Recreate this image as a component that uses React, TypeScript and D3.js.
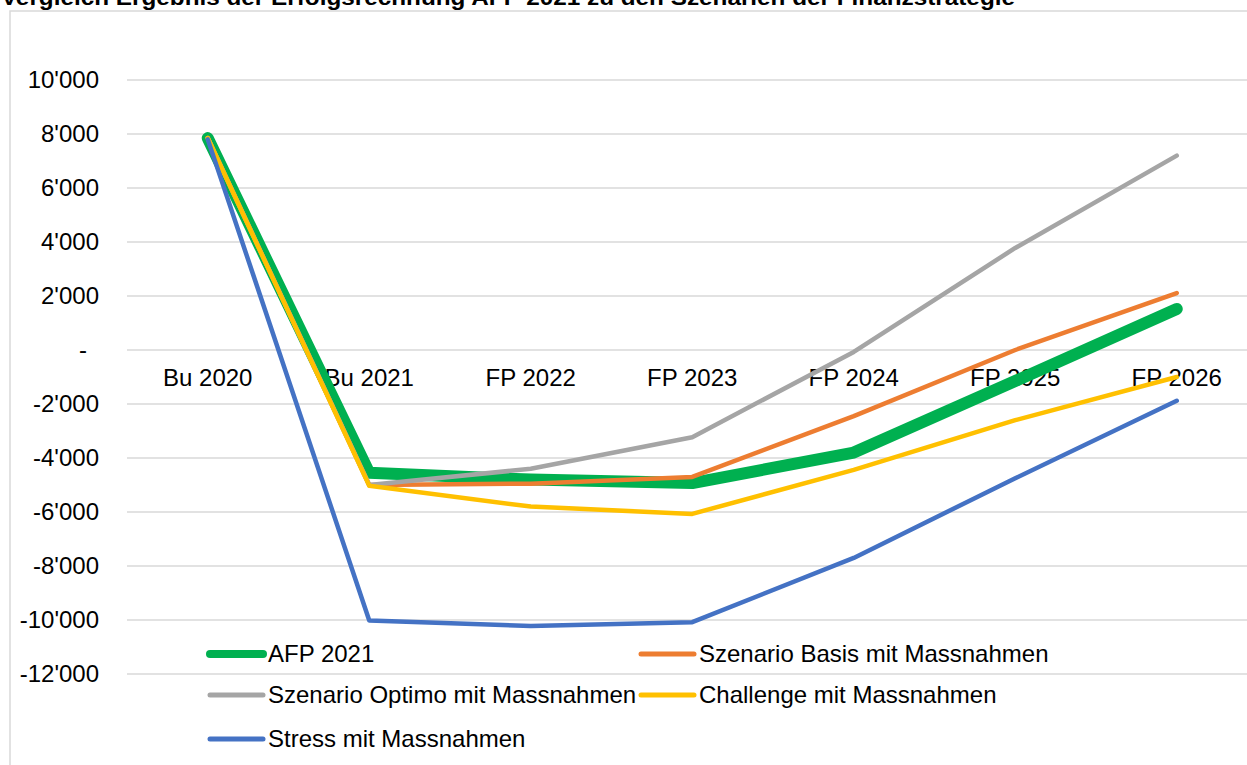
import React from "react";
import * as d3 from "d3";

const categories = ["Bu 2020", "Bu 2021", "FP 2022", "FP 2023", "FP 2024", "FP 2025", "FP 2026"];
const afp2021 = [7850, -4550, -4800, -4930, -3800, -1150, 1520];
const basis = [7850, -5000, -4950, -4700, -2450, 0, 2110];
const optimo = [7850, -5000, -4400, -3230, -70, 3780, 7200];
const challenge = [7850, -5030, -5800, -6070, -4440, -2600, -1000];
const stress = [7800, -10020, -10220, -10080, -7700, -4750, -1880];
const yTicks = [10000, 8000, 6000, 4000, 2000, 0, -2000, -4000, -6000, -8000, -10000, -12000];
const seriesNames = [
  "AFP 2021",
  "Szenario Basis mit Massnahmen",
  "Szenario Optimo mit Massnahmen",
  "Challenge mit Massnahmen",
  "Stress mit Massnahmen",
];
const title = "Vergleich Ergebnis der Erfolgsrechnung AFP 2021 zu den Szenarien der Finanzstrategie";

const W = 1247;
const H = 765;
const FONT = "'Liberation Sans', Arial, sans-serif";

export default function App() {
  const x = d3.scalePoint<string>().domain(categories).range([127 + 80.75, 127 + 7 * 161.5 - 80.75]);
  const y = d3.scaleLinear().domain([-12000, 10000]).range([674, 80]);
  const fmt = (v: number) => (v === 0 ? "-" : d3.format(",")(v).replace(/,/g, "'").replace("−", "-"));

  const series = [
    { name: seriesNames[0], values: afp2021, color: "#00B050", width: 12, legendWidth: 8 },
    { name: seriesNames[1], values: basis, color: "#ED7D31", width: 4.5, legendWidth: 5 },
    { name: seriesNames[2], values: optimo, color: "#A5A5A5", width: 4.5, legendWidth: 5 },
    { name: seriesNames[3], values: challenge, color: "#FFC000", width: 4.5, legendWidth: 5 },
    { name: seriesNames[4], values: stress, color: "#4472C4", width: 4.5, legendWidth: 5 },
  ];

  const line = d3
    .line<number>()
    .x((_, i) => x(categories[i]) as number)
    .y((d) => y(d));

  const legendPos = [
    { lx: 207, ty: 654 },
    { lx: 638, ty: 654 },
    { lx: 207, ty: 695 },
    { lx: 638, ty: 695 },
    { lx: 207, ty: 739 },
  ];

  return (
    <svg
      width={W}
      height={H}
      style={{ position: "absolute", left: 0, top: 0, background: "#fff" }}
      fontFamily={FONT}
    >
      <rect x={0} y={0} width={W} height={H} fill="#fff" />
      <text x={1} y={5} fontSize={22} fontWeight="bold" fill="#000" textLength={1014} lengthAdjust="spacingAndGlyphs">
        {title}
      </text>
      <rect x={10} y={11} width={W + 50} height={H + 50} fill="none" stroke="#d9d9d9" strokeWidth={1.5} />
      {yTicks.map((t) => (
        <g key={t}>
          <line x1={127} x2={W} y1={y(t)} y2={y(t)} stroke="#d9d9d9" strokeWidth={1.5} />
          <text x={t === 0 ? 87 : 99} y={y(t)} dy="0.35em" textAnchor="end" fontSize={24} fill="#000">
            {fmt(t)}
          </text>
        </g>
      ))}
      {categories.map((c) => (
        <text key={c} x={x(c) as number} y={y(0) + 28} dy="0.35em" textAnchor="middle" fontSize={24} fill="#000">
          {c}
        </text>
      ))}
      {series.map((s) => (
        <path
          key={s.name}
          d={line(s.values) || ""}
          fill="none"
          stroke={s.color}
          strokeWidth={s.width}
          strokeLinecap="round"
          strokeLinejoin="round"
        />
      ))}
      {series.map((s, i) => (
        <g key={"lg" + s.name}>
          <line
            x1={legendPos[i].lx + 3}
            x2={legendPos[i].lx + 56}
            y1={legendPos[i].ty}
            y2={legendPos[i].ty}
            stroke={s.color}
            strokeWidth={s.legendWidth}
            strokeLinecap="round"
          />
          <text x={legendPos[i].lx + 61} y={legendPos[i].ty} dy="0.35em" fontSize={24} fill="#000">
            {s.name}
          </text>
        </g>
      ))}
    </svg>
  );
}
